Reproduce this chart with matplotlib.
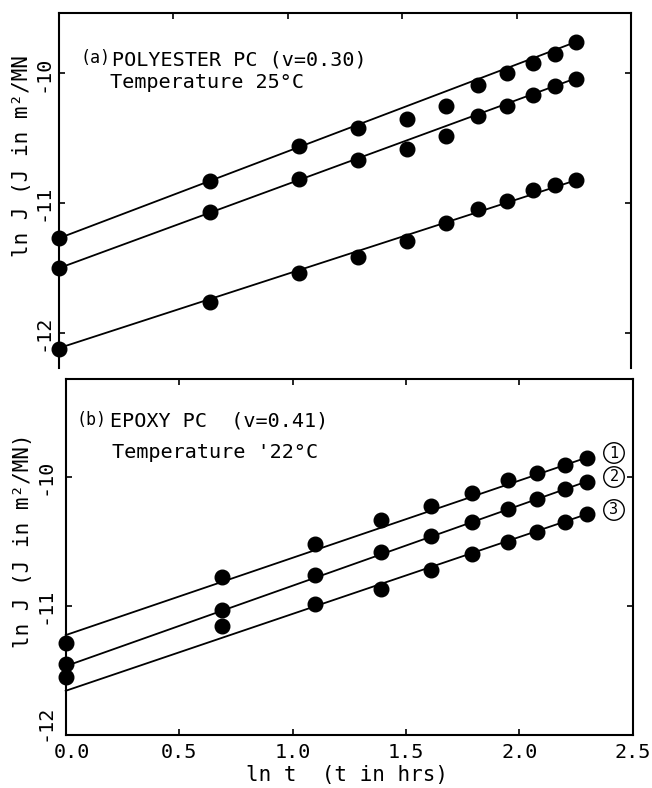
import numpy as np
import matplotlib
matplotlib.use("Agg")
import matplotlib.pyplot as plt
import matplotlib.transforms as mtransforms

plt.rcParams['font.family'] = ['DejaVu Sans Mono', 'DejaVu Sans']
plt.rcParams['axes.unicode_minus'] = False

# (a) polyester PC, 25 C  -- ln t and ln J
x_a = [0.0, 0.66, 1.05, 1.31, 1.52, 1.69, 1.83, 1.96, 2.07, 2.17, 2.26]
a1 = [-11.27, -10.83, -10.56, -10.42, -10.35, -10.25, -10.09, -10.00, -9.92, -9.85, -9.76]
a2 = [-11.50, -11.07, -10.81, -10.67, -10.58, -10.48, -10.33, -10.25, -10.17, -10.10, -10.04]
a3 = [-12.12, -11.76, -11.54, -11.41, -11.29, -11.15, -11.04, -10.98, -10.90, -10.86, -10.82]
# straight fit lines (intercept, slope)
fit_a = [(-11.27, 0.669), (-11.50, 0.647), (-12.115, 0.572)]

# (b) epoxy PC, 22 C
x_b = [0.0, 0.69, 1.10, 1.39, 1.61, 1.79, 1.95, 2.08, 2.20, 2.30]
b1 = [-11.29, -10.78, -10.52, -10.34, -10.23, -10.13, -10.03, -9.97, -9.91, -9.86]
b2 = [-11.45, -11.03, -10.76, -10.58, -10.46, -10.35, -10.25, -10.17, -10.10, -10.04]
b3 = [-11.55, -11.16, -10.99, -10.87, -10.72, -10.60, -10.51, -10.43, -10.35, -10.29]
fit_b = [(-11.227, 0.598), (-11.467, 0.622), (-11.658, 0.595)]
curve_ids = ['1', '2', '3']

x_ticks = [0.0, 0.5, 1.0, 1.5, 2.0, 2.5]
x_ticklabels = ['0.0', '0.5', '1.0', '1.5', '2.0', '2.5']
y_ticks = [-12, -11, -10]
y_ticklabels = ['-12', '-11', '-10']

W, H = 652, 788


def px(x, y):
    # pixel position (from top-left) -> figure fraction
    return x / W, 1 - y / H


fig = plt.figure(figsize=(W / 100, H / 100), dpi=100)
ax1 = fig.add_axes([58.5 / W, 1 - 368 / H, (631 - 58.5) / W, (368 - 13) / H])
ax2 = fig.add_axes([65.7 / W, 1 - 735 / H, (632.7 - 65.7) / W, (735 - 379) / H])


def draw(ax, xs, series, fits):
    xs = np.array(xs)
    for ys, (b0, m) in zip(series, fits):
        xl = np.array([0.0, xs[-1]])
        ax.plot(xl, b0 + m * xl, color='black', lw=1.3, clip_on=False, zorder=3)
        ax.plot(xs, ys, 'o', color='black', ms=10.5, clip_on=False, zorder=4)


draw(ax1, x_a, [a1, a2, a3], fit_a)
draw(ax2, x_b, [b1, b2, b3], fit_b)

for ax in (ax1, ax2):
    ax.set_xlim(0, 2.5)
    ax.set_xticks(x_ticks)
    ax.set_yticks(y_ticks)
    ax.set_yticklabels(y_ticklabels, rotation=90, va='center')
    for s in ax.spines.values():
        s.set_linewidth(1.5)
    ax.tick_params(direction='in', length=4, width=1.2, labelsize=14.5,
                   top=True, right=True)

ax1.set_ylim(-12.267, -9.536)
ax1.spines['bottom'].set_visible(False)
ax1.tick_params(axis='x', bottom=False, labelbottom=False)
ax1.tick_params(axis='y', pad=4)

ax2.set_ylim(-12, -9.245)
ax2.set_xticklabels(x_ticklabels)
ax2.tick_params(axis='x', pad=6)
ax2.tick_params(axis='y', pad=8)

# corner labels of the lower panel sit a little apart, as in the original
fig.canvas.draw()
lbl_y = ax2.get_yticklabels()[0]
lbl_y.set_transform(lbl_y.get_transform() +
                    mtransforms.ScaledTranslation(0, 12 / 100, fig.dpi_scale_trans))
lbl_x = ax2.get_xticklabels()[0]
lbl_x.set_transform(lbl_x.get_transform() +
                    mtransforms.ScaledTranslation(6 / 100, 0, fig.dpi_scale_trans))

# panel captions
fig.text(*px(81, 58), '(a)', fontsize=12, va='center', ha='left')
fig.text(*px(112, 60), 'POLYESTER PC (v=0.30)', fontsize=14.5, va='center', ha='left')
fig.text(*px(110, 83), 'Temperature 25°C', fontsize=14.5, va='center', ha='left')
fig.text(*px(76, 420), '(b)', fontsize=12, va='center', ha='left')
fig.text(*px(110, 421), 'EPOXY PC  (v=0.41)', fontsize=14.5, va='center', ha='left')
fig.text(*px(112, 452), "Temperature '22°C", fontsize=14.5, va='center', ha='left')

# curve numbers
for cid, yp in zip(curve_ids, [453, 477, 510]):
    fig.text(*px(614, yp), cid, fontsize=11, ha='center', va='center',
             bbox=dict(boxstyle='circle,pad=0.18', fc='white', ec='black', lw=1.0))

# axis labels
fig.text(*px(22, 257), 'ln J (J in m²/MN', fontsize=15, rotation=90,
         ha='center', va='bottom')
fig.text(*px(23, 541), 'ln J (J in m²/MN)', fontsize=15, rotation=90,
         ha='center', va='center')
fig.text(*px(347, 775), 'ln t  (t in hrs)', fontsize=15, ha='center', va='center')

fig.savefig('out.png', dpi=100)
